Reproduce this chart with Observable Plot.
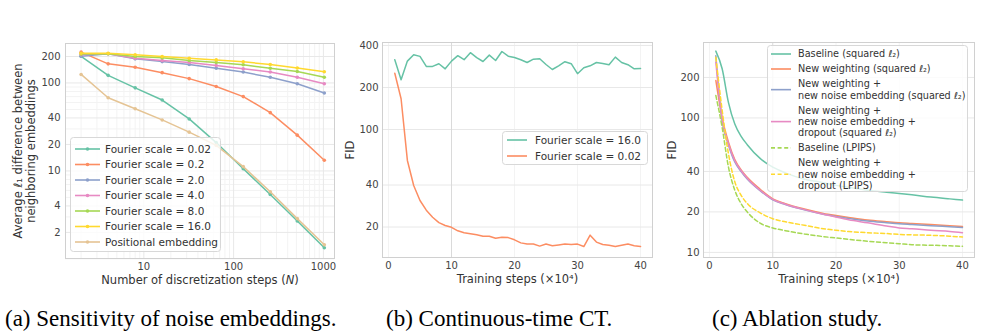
<!DOCTYPE html>
<html><head><meta charset="utf-8">
<script src="https://cdn.jsdelivr.net/npm/d3@7"></script>
<script src="https://cdn.jsdelivr.net/npm/@observablehq/plot@0.6"></script>
<style>
body{margin:0;background:#fff;}
#wrap{position:relative;width:1000px;height:335px;overflow:hidden;font-family:"DejaVu Sans";}
.panel{position:absolute;top:0;}
.cap{position:absolute;font-family:"Liberation Serif";font-size:23px;color:#000;white-space:nowrap;line-height:1;}
</style></head><body><div id="wrap"></div>
<script>
// ---------- Panel (a) data ----------
const stepsA = [2,4,8,16,32,64,128,256,512,1024];
const fs002 = [201,122,88,64,39,21,10.6,5.4,2.7,1.34];
const fs02  = [224,165,151,131,112,91,70,46,25.5,13.2];
const fs2   = [201,215,188,175,162,147,133,116,98,77];
const fs4   = [209,215,191,180,171,158,145,133,116,98];
const fs8   = [213,215,200,193,180,171,161,147,135,116];
const fs16  = [218,218,209,200,191,183,174,162,148,134];
const posEmb= [125,68,51,38,27.6,19.5,11.2,5.8,2.87,1.45];
const namesA = ["Fourier scale = 0.02","Fourier scale = 0.2","Fourier scale = 2.0","Fourier scale = 4.0","Fourier scale = 8.0","Fourier scale = 16.0","Positional embedding"];
const colorsA = ["#66c2a5","#fc8d62","#8da0cb","#e78ac3","#a6d854","#ffd92f","#e5c494"];
const valuesA = [fs002,fs02,fs2,fs4,fs8,fs16,posEmb];
const xTicksA = [10,100,1000];
const xMinorA = [2,3,4,5,6,7,8,9,20,30,40,50,60,70,80,90,200,300,400,500,600,700,800,900];
const yTicksA = [2,4,10,20,40,100,200];
const yMinorA = [1,3,5,6,7,8,9,30,50,60,70,80,90];

// ---------- Panel (b) data ----------
const stepsB = [1,2,3,4,5,6,7,8,9,10,11,12,13,14,15,16,17,18,19,20,21,22,23,24,25,26,27,28,29,30,31,32,33,34,35,36,37,38,39,40];
const fidB16 = [316,227,309,343,334,283,283,296,272,309,338,316,355,327,307,341,312,362,335,328,316,302,319,321,292,269,286,306,296,251,277,286,302,297,291,330,302,291,272,274];
const fidB002= [253,166,60,39.7,31,26.4,23.5,21.5,20.5,19.9,18.8,18.2,17.9,17.6,17.2,17.2,16.6,16.9,16.8,16.2,15.4,15.1,15.1,14.6,15.1,14.7,14.9,15.1,15.0,15.1,14.5,17.5,15.6,15.0,14.8,14.5,14.8,15.1,14.7,14.5];
const namesB = ["Fourier scale = 16.0","Fourier scale = 0.02"];
const colorsB = ["#66c2a5","#fc8d62"];
const xTicksBC = [0,10,20,30,40];
const yTicksB = [20,40,100,200,400];

// ---------- Panel (c) data ----------
const stepsC = [1,2,3,4,5,6,8,10,12,15,18,20,22,25,28,30,32,35,38,40];
const baseL2   = [314,232,130,90,73,63,50,43,39,35,33,31.5,30.5,29,28,27.4,26.8,25.8,25,24.5];
const newW     = [190,100,66,49,41,36,29.5,25,23,21,19.5,18.8,18.2,17.4,16.9,16.6,16.4,16.1,15.8,15.6];
const newWEmb  = [290,95,63,47,40,35,28.8,24.6,22.7,20.7,19.2,18.5,17.9,17.1,16.6,16.3,16.1,15.8,15.5,15.3];
const newWEmbD = [260,97,64,48,40.5,35.5,29,24.8,22.8,20.8,19.2,18.3,17.5,16.6,15.7,15.2,15.0,14.6,14.3,14.0];
const baseLP   = [147,85,43,29,23,19.9,16.5,15.2,14.5,13.7,13.1,12.8,12.5,12.1,11.8,11.6,11.4,11.3,11.2,11.1];
const newLP    = [283,114,54,33.5,26.6,23,19.7,17.8,16.9,15.9,15.0,14.6,14.3,14.0,13.8,13.6,13.5,13.4,13.2,13.0];
const valuesC = [baseL2,newW,newWEmb,newWEmbD,baseLP,newLP];
const colorsC = ["#66c2a5","#fc8d62","#8da0cb","#e78ac3","#a6d854","#ffd92f"];
const dashedC = [false,false,false,false,true,true];
const namesC = [
  ["Baseline (squared ℓ₂)"],
  ["New weighting (squared ℓ₂)"],
  ["New weighting +","new noise embedding (squared ℓ₂)"],
  ["New weighting +","new noise embedding +","dropout (squared ℓ₂)"],
  ["Baseline (LPIPS)"],
  ["New weighting +","new noise embedding +","dropout (LPIPS)"]
];
const yTicksC = [10,20,40,100,200];

const captions = ["(a) Sensitivity of noise embeddings.","(b) Continuous-time CT.","(c) Ablation study."];

// ---------- helpers ----------
const wrap = document.getElementById("wrap");
const FONT = "DejaVu Sans";
const LABEL_FS = 11.5;
function place(el, left){ const d=document.createElement("div"); d.className="panel"; d.style.left=left+"px"; d.appendChild(el); wrap.appendChild(d); return d; }
const styleObj = {fontFamily:FONT, fontSize:"10px", color:"#444", background:"transparent", overflow:"visible"};
const GRID = "#e8e8e8", GRIDMINOR = "#f3f3f3", FRAME = "#d0d0d0";

function legend(left, top, width, height, items, opts){
  const svg = d3.create("svg").attr("width",width).attr("height",height)
    .style("position","absolute").style("left",left+"px").style("top",top+"px").style("overflow","visible");
  svg.append("rect").attr("x",0.5).attr("y",0.5).attr("width",width-1).attr("height",height-1)
    .attr("rx",3).attr("fill","white").attr("fill-opacity",0.8).attr("stroke","#d8d8d8");
  let y = opts.pad;
  items.forEach((it,i)=>{
    const n = it.lines.length;
    const cy = y + (n-1)*opts.lh/2;
    svg.append("line").attr("x1",opts.x0).attr("x2",opts.x1).attr("y1",cy).attr("y2",cy)
      .attr("stroke",it.color).attr("stroke-width",1.6).attr("stroke-dasharray",it.dash?"4,2.6":null);
    if(it.dot) svg.append("circle").attr("cx",(opts.x0+opts.x1)/2).attr("cy",cy).attr("r",1.8).attr("fill",it.color);
    it.lines.forEach((t,j)=>{
      svg.append("text").attr("x",opts.tx).attr("y",y+j*opts.lh).attr("dy","0.35em")
        .attr("font-family",FONT).attr("font-size",opts.fs).attr("fill","#333").text(t);
    });
    y += (n-1)*opts.lh + opts.gap;
  });
  wrap.appendChild(svg.node());
}

// ---------- Panel (a) ----------
const marksA = [
  Plot.ruleX(xMinorA,{stroke:GRIDMINOR}),
  Plot.ruleY(yMinorA,{stroke:GRIDMINOR}),
  Plot.ruleX(xTicksA,{stroke:GRID}),
  Plot.ruleY(yTicksA,{stroke:GRID}),
  Plot.frame({stroke:FRAME})
];
valuesA.forEach((vals,k)=>{
  const rec = stepsA.map((n,i)=>({n, v:vals[i]}));
  marksA.push(Plot.line(rec,{x:"n",y:"v",stroke:colorsA[k],strokeWidth:1.5}));
  marksA.push(Plot.dot(rec,{x:"n",y:"v",fill:colorsA[k],r:1.8}));
});
marksA.push(Plot.text(["Average ℓ₁ difference between\nneighboring embeddings"],{frameAnchor:"left",textAnchor:"middle",dx:-41.5,rotate:-90,fontSize:LABEL_FS,fill:"#333",lineHeight:1.13,text:d=>d}));
marksA.push(Plot.text(["Number of discretization steps (N)"],{frameAnchor:"bottom",textAnchor:"middle",dy:25,fontSize:LABEL_FS,fill:"#333",text:d=>d}));
const pa = Plot.plot({
  width:340,height:290,marginLeft:65,marginRight:6,marginTop:43,marginBottom:32,
  style:styleObj,
  x:{type:"log",domain:[1.34,1330],ticks:xTicksA,tickFormat:d=>String(d),tickSize:0,tickPadding:4,label:null},
  y:{type:"log",domain:[1.01,281],ticks:yTicksA,tickFormat:d=>String(d),tickSize:0,tickPadding:5,label:null},
  marks:marksA
});
place(pa,0);

// ---------- Panel (b) ----------
const marksB = [
  Plot.ruleX(xTicksBC.filter(d=>d!==10),{stroke:GRIDMINOR}),
  Plot.ruleY(yTicksB,{stroke:GRID}),
  Plot.ruleX([10],{stroke:"#dadada"}),
  Plot.frame({stroke:FRAME}),
  Plot.line(stepsB.map((s,i)=>({s,v:fidB16[i]})),{x:"s",y:"v",stroke:colorsB[0],strokeWidth:1.5}),
  Plot.line(stepsB.map((s,i)=>({s,v:fidB002[i]})),{x:"s",y:"v",stroke:colorsB[1],strokeWidth:1.5}),
  Plot.text(["FID"],{frameAnchor:"left",textAnchor:"middle",dx:-32,rotate:-90,fontSize:LABEL_FS,fill:"#333",text:d=>d}),
  Plot.text(["Training steps (×10⁴)"],{frameAnchor:"bottom",textAnchor:"middle",dy:25,fontSize:LABEL_FS,fill:"#333",text:d=>d})
];
const pb = Plot.plot({
  width:325,height:290,marginLeft:47,marginRight:8,marginTop:42,marginBottom:33,
  style:styleObj,
  x:{domain:[-0.95,41.9],ticks:xTicksBC,tickFormat:d=>String(d),tickSize:0,tickPadding:4,label:null},
  y:{type:"log",domain:[12.1,420],ticks:yTicksB,tickFormat:d=>String(d),tickSize:0,tickPadding:4,label:null},
  marks:marksB
});
place(pb,335);

// ---------- Panel (c) ----------
const marksC = [
  Plot.ruleX(xTicksBC.filter(d=>d!==10),{stroke:GRIDMINOR}),
  Plot.ruleY(yTicksC,{stroke:GRID}),
  Plot.ruleX([10],{stroke:"#dadada"}),
  Plot.frame({stroke:FRAME})
];
valuesC.forEach((vals,k)=>{
  marksC.push(Plot.line(stepsC.map((s,i)=>({s,v:vals[i]})),{x:"s",y:"v",stroke:colorsC[k],strokeWidth:1.5,curve:"monotone-x",strokeDasharray:dashedC[k]?"4,2.6":null}));
});
marksC.push(Plot.text(["FID"],{frameAnchor:"left",textAnchor:"middle",dx:-31,rotate:-90,fontSize:LABEL_FS,fill:"#333",text:d=>d}));
marksC.push(Plot.text(["Training steps (×10⁴)"],{frameAnchor:"bottom",textAnchor:"middle",dy:25,fontSize:LABEL_FS,fill:"#333",text:d=>d}));
const pc = Plot.plot({
  width:340,height:290,marginLeft:43,marginRight:26,marginTop:42,marginBottom:33,
  style:styleObj,
  x:{domain:[-0.95,41.9],ticks:xTicksBC,tickFormat:d=>String(d),tickSize:0,tickPadding:4,label:null},
  y:{type:"log",domain:[9.16,364],ticks:yTicksC,tickFormat:d=>String(d),tickSize:0,tickPadding:4,label:null},
  marks:marksC
});
place(pc,660);

// italic N
wrap.querySelectorAll("text").forEach(t=>{
  if(t.textContent==="Number of discretization steps (N)"){
    t.innerHTML='Number of discretization steps (<tspan font-style="italic">N</tspan>)';
  }
});

// ---------- legends ----------
legend(70,137,151,115, namesA.map((n,i)=>({lines:[n],color:colorsA[i],dot:true})), {pad:12,lh:11,gap:15.5,x0:5,x1:30,tx:35,fs:10.5});
legend(502,131,146,34, namesB.map((n,i)=>({lines:[n],color:colorsB[i]})), {pad:9,lh:11,gap:16,x0:5,x1:25,tx:33,fs:10.5});
legend(767,45,201,147, namesC.map((n,i)=>({lines:n,color:colorsC[i],dash:dashedC[i]})), {pad:9,lh:11.3,gap:15,x0:4,x1:24,tx:31,fs:9.7});

// ---------- captions ----------
[[5,captions[0]],[386,captions[1]],[712,captions[2]]].forEach(([x,t])=>{
  const d=document.createElement("div"); d.className="cap"; d.style.left=x+"px"; d.style.top="307px"; d.textContent=t; wrap.appendChild(d);
});
</script></body></html>
